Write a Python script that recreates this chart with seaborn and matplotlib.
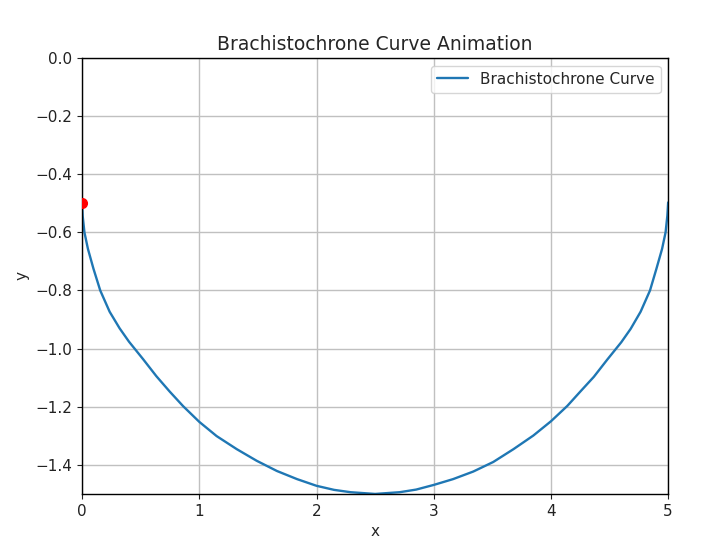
import numpy as np
import pandas as pd
import matplotlib
matplotlib.use("Agg")
import matplotlib.pyplot as plt
import seaborn as sns

# points
curve_x = [0.0, 0.005, 0.02, 0.05, 0.097, 0.155, 0.235, 0.32, 0.40, 0.48,
           0.52, 0.634, 0.748, 0.862, 1.0, 1.148, 1.32, 1.49, 1.662, 1.834,
           2.0, 2.15, 2.29, 2.5, 2.71, 2.85, 3.0, 3.165, 3.337, 3.508,
           3.68, 3.85, 4.0, 4.14, 4.25, 4.366, 4.48, 4.52, 4.60, 4.68,
           4.765, 4.845, 4.90, 4.948, 4.978, 4.993, 5.0]
curve_y = [-0.50, -0.543, -0.60, -0.657, -0.725, -0.80, -0.873, -0.93, -0.976, -1.016,
           -1.036, -1.095, -1.148, -1.198, -1.252, -1.301, -1.346, -1.386, -1.421, -1.449,
           -1.472, -1.486, -1.494, -1.50, -1.494, -1.485, -1.469, -1.449, -1.423, -1.390,
           -1.346, -1.299, -1.250, -1.197, -1.148, -1.097, -1.038, -1.018, -0.978, -0.932,
           -0.873, -0.80, -0.725, -0.657, -0.60, -0.543, -0.497]

ball_x = [0.0]
ball_y = [-0.5]

x_ticks = [0, 1, 2, 3, 4, 5]
y_ticks = [0.0, -0.2, -0.4, -0.6, -0.8, -1.0, -1.2, -1.4]

df = pd.DataFrame({'x': curve_x, 'y': curve_y})

sns.set_style("ticks")
plt.rcParams['font.family'] = ['DejaVu Sans']

fig = plt.figure(figsize=(7.2, 5.47), dpi=100)
ax = fig.add_axes([0.114, 0.097, 0.814, 0.797])

sns.lineplot(data=df, x='x', y='y', sort=False, color='#1f77b4', linewidth=1.7,
             label='Brachistochrone Curve', ax=ax)
ax.plot(ball_x, ball_y, 'o', color='red', markersize=7, zorder=5)

ax.set_xlim(0, 5)
ax.set_ylim(-1.5, 0)
ax.set_xticks(x_ticks)
ax.set_yticks(y_ticks)
ax.set_yticklabels([f"{v:.1f}".replace('-', '\u2212') for v in y_ticks])
ax.tick_params(labelsize=11, colors='#222222')
ax.grid(True, color='#c0c0c0', linewidth=1.0)
for s in ax.spines.values():
    s.set_color('black')
    s.set_linewidth(1.0)

ax.set_title('Brachistochrone Curve Animation', fontsize=13.5)
ax.set_xlabel('x', fontsize=11)
ax.set_ylabel('y', fontsize=11)
ax.legend(loc='upper right', fontsize=11)

plt.savefig("out.png", dpi=100)
